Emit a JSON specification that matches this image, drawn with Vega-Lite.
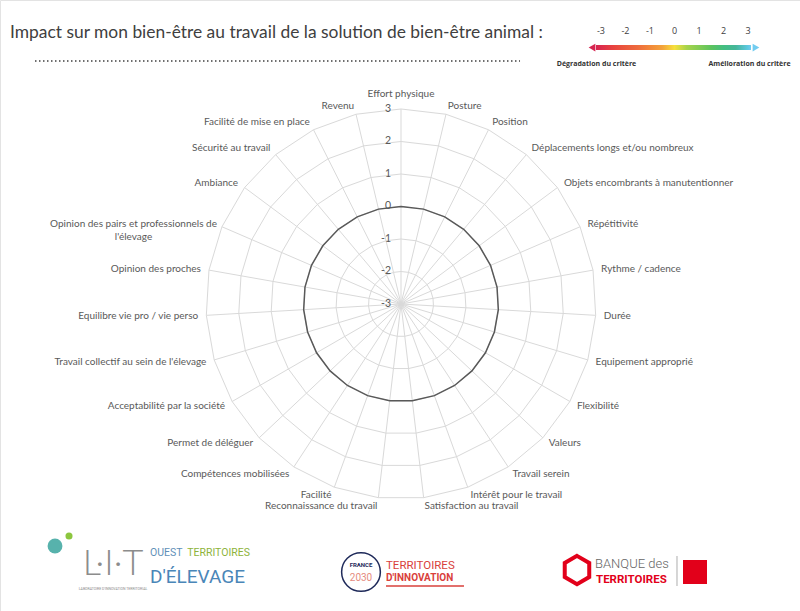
{
  "$schema": "https://vega.github.io/schema/vega-lite/v6.json",
  "width": 800,
  "height": 611,
  "autosize": "none",
  "padding": 0,
  "background": "white",
  "view": {"stroke": "#e3e3e3"},
  "config": {"font": "Lato"},
  "datasets": {
    "criteres": [
      {"i": 0, "critere": "Effort physique", "valeur": 0},
      {"i": 1, "critere": "Posture", "valeur": 0},
      {"i": 2, "critere": "Position", "valeur": 0},
      {"i": 3, "critere": "Déplacements longs et/ou nombreux", "valeur": 0},
      {"i": 4, "critere": "Objets encombrants à manutentionner", "valeur": 0},
      {"i": 5, "critere": "Répétitivité", "valeur": 0},
      {"i": 6, "critere": "Rythme / cadence", "valeur": 0},
      {"i": 7, "critere": "Durée", "valeur": 0},
      {"i": 8, "critere": "Equipement approprié", "valeur": 0},
      {"i": 9, "critere": "Flexibilité", "valeur": 0},
      {"i": 10, "critere": "Valeurs", "valeur": 0},
      {"i": 11, "critere": "Travail serein", "valeur": 0},
      {"i": 12, "critere": "Intérêt pour le travail", "valeur": 0},
      {"i": 13, "critere": "Satisfaction au travail", "valeur": 0},
      {"i": 14, "critere": "Reconnaissance du travail", "valeur": 0},
      {"i": 15, "critere": "Facilité", "valeur": 0},
      {"i": 16, "critere": "Compétences mobilisées", "valeur": 0},
      {"i": 17, "critere": "Permet de déléguer", "valeur": 0},
      {"i": 18, "critere": "Acceptabilité par la société", "valeur": 0},
      {"i": 19, "critere": "Travail collectif au sein de l'élevage", "valeur": 0},
      {"i": 20, "critere": "Equilibre vie pro / vie perso", "valeur": 0},
      {"i": 21, "critere": "Opinion des proches", "valeur": 0},
      {"i": 22, "critere": "Opinion des pairs et professionnels de l'élevage", "valeur": 0},
      {"i": 23, "critere": "Ambiance", "valeur": 0},
      {"i": 24, "critere": "Sécurité au travail", "valeur": 0},
      {"i": 25, "critere": "Facilité de mise en place", "valeur": 0},
      {"i": 26, "critere": "Revenu", "valeur": 0}
    ],
    "graduations": [
      {"niveau": "-3", "n": -3},
      {"niveau": "-2", "n": -2},
      {"niveau": "-1", "n": -1},
      {"niveau": "0", "n": 0},
      {"niveau": "1", "n": 1},
      {"niveau": "2", "n": 2},
      {"niveau": "3", "n": 3}
    ]
  },
  "data": {"name": "criteres"},
  "transform": [
    {"calculate": "datum.i * 2 * PI / 27", "as": "a"},
    {"calculate": "6 * sin(datum.a)", "as": "sx"},
    {"calculate": "6 * cos(datum.a)", "as": "sy"},
    {"calculate": "(datum.valeur + 3) * sin(datum.a)", "as": "vx"},
    {"calculate": "(datum.valeur + 3) * cos(datum.a)", "as": "vy"},
    {"calculate": "6.25 * sin(datum.a)", "as": "lx"},
    {"calculate": "6.25 * cos(datum.a)", "as": "ly"}
  ],
  "layer": [
    {
      "transform": [
        {"calculate": "[-2, -1, 0, 1, 2, 3]", "as": "niv"},
        {"flatten": ["niv"]},
        {"calculate": "(datum.niv + 3) * sin(datum.a)", "as": "rx"},
        {"calculate": "(datum.niv + 3) * cos(datum.a)", "as": "ry"}
      ],
      "mark": {"type": "line", "interpolate": "linear-closed", "color": "#d9d9d9", "strokeWidth": 1},
      "encoding": {
        "x": {"field": "rx", "type": "quantitative", "scale": {"domain": [-12.3385, 12.2769], "nice": false, "zero": false}, "axis": null},
        "y": {"field": "ry", "type": "quantitative", "scale": {"domain": [-9.4462, 9.3538], "nice": false, "zero": false}, "axis": null},
        "detail": {"field": "niv", "type": "nominal"},
        "order": {"field": "i", "type": "quantitative"}
      }
    },
    {
      "mark": {"type": "rule", "color": "#d9d9d9", "strokeWidth": 1},
      "encoding": {
        "x": {"field": "sx", "type": "quantitative", "scale": {"domain": [-12.3385, 12.2769], "nice": false, "zero": false}, "axis": null},
        "y": {"field": "sy", "type": "quantitative", "scale": {"domain": [-9.4462, 9.3538], "nice": false, "zero": false}, "axis": null},
        "x2": {"datum": 0},
        "y2": {"datum": 0}
      }
    },
    {
      "mark": {"type": "line", "interpolate": "linear-closed", "color": "#595959", "strokeWidth": 1.5},
      "encoding": {
        "x": {"field": "vx", "type": "quantitative", "scale": {"domain": [-12.3385, 12.2769], "nice": false, "zero": false}, "axis": null},
        "y": {"field": "vy", "type": "quantitative", "scale": {"domain": [-9.4462, 9.3538], "nice": false, "zero": false}, "axis": null},
        "order": {"field": "i", "type": "quantitative"}
      }
    },
    {
      "mark": {"type": "point", "opacity": 0},
      "encoding": {
        "x": {"field": "vx", "type": "quantitative", "scale": {"domain": [-12.3385, 12.2769], "nice": false, "zero": false}, "axis": null},
        "y": {"field": "vy", "type": "quantitative", "scale": {"domain": [-9.4462, 9.3538], "nice": false, "zero": false}, "axis": null},
        "color": {
          "field": "valeur",
          "type": "quantitative",
          "scale": {
            "domain": [-3.2, -2.5, -1.5, -0.5, 0, 0.5, 1.5, 2.5, 3.12],
            "range": ["#d62450", "#e8423f", "#ee6b3d", "#f3a23b", "#f7e03c", "#a6d34b", "#5cc35e", "#45b69a", "#72ccf0"]
          },
          "legend": {
            "orient": "none",
            "legendX": 596,
            "legendY": 45,
            "direction": "horizontal",
            "gradientLength": 155,
            "gradientThickness": 5,
            "gradientStrokeWidth": 0,
            "values": [-3, -2, -1, 0, 1, 2, 3],
            "labelExpr": "'' + datum.value",
            "labelOffset": -23,
            "labelAlign": "center",
            "labelOverlap": false,
            "labelFontSize": 9,
            "labelFont": "Open Sans",
            "labelColor": "#404040",
            "title": null,
            "padding": 0
          }
        }
      }
    },
    {
      "data": {"name": "graduations"},
      "transform": [{"calculate": "datum.n + 3", "as": "r"}],
      "mark": {"type": "text", "align": "right", "baseline": "middle", "dx": -10, "fontSize": 10.5, "font": "Lato", "color": "#595959"},
      "encoding": {
        "x": {"datum": 0, "type": "quantitative", "scale": {"domain": [-12.3385, 12.2769], "nice": false, "zero": false}, "axis": null},
        "y": {"field": "r", "type": "quantitative", "scale": {"domain": [-9.4462, 9.3538], "nice": false, "zero": false}, "axis": null},
        "text": {"field": "niveau", "type": "nominal"}
      }
    },
    {
      "transform": [{"filter": "datum.i === 0"}],
      "mark": {"type": "text", "align": "center", "baseline": "bottom", "dy": -2, "fontSize": 10, "font": "Lato", "color": "#595959"},
      "encoding": {
        "x": {"field": "lx", "type": "quantitative", "scale": {"domain": [-12.3385, 12.2769], "nice": false, "zero": false}, "axis": null},
        "y": {"field": "ly", "type": "quantitative", "scale": {"domain": [-9.4462, 9.3538], "nice": false, "zero": false}, "axis": null},
        "text": {"field": "critere", "type": "nominal"}
      }
    },
    {
      "transform": [{"filter": "datum.i >= 1 && datum.i <= 13"}],
      "mark": {"type": "text", "align": "left", "baseline": "middle", "fontSize": 10, "font": "Lato", "color": "#595959"},
      "encoding": {
        "x": {"field": "lx", "type": "quantitative", "scale": {"domain": [-12.3385, 12.2769], "nice": false, "zero": false}, "axis": null},
        "y": {"field": "ly", "type": "quantitative", "scale": {"domain": [-9.4462, 9.3538], "nice": false, "zero": false}, "axis": null},
        "text": {"field": "critere", "type": "nominal"}
      }
    },
    {
      "transform": [{"filter": "datum.i >= 14 && datum.i !== 22"}],
      "mark": {"type": "text", "align": "right", "baseline": "middle", "fontSize": 10, "font": "Lato", "color": "#595959"},
      "encoding": {
        "x": {"field": "lx", "type": "quantitative", "scale": {"domain": [-12.3385, 12.2769], "nice": false, "zero": false}, "axis": null},
        "y": {"field": "ly", "type": "quantitative", "scale": {"domain": [-9.4462, 9.3538], "nice": false, "zero": false}, "axis": null},
        "text": {"field": "critere", "type": "nominal"}
      }
    },
    {
      "transform": [
        {"filter": "datum.i === 22"},
        {"calculate": "['Opinion des pairs et professionnels de', 'l\\'élevage']", "as": "lignes"}
      ],
      "mark": {"type": "text", "align": "center", "baseline": "middle", "dx": -81, "lineHeight": 13, "fontSize": 10, "font": "Lato", "color": "#595959"},
      "encoding": {
        "x": {"field": "lx", "type": "quantitative", "scale": {"domain": [-12.3385, 12.2769], "nice": false, "zero": false}, "axis": null},
        "y": {"field": "ly", "type": "quantitative", "scale": {"domain": [-9.4462, 9.3538], "nice": false, "zero": false}, "axis": null},
        "text": {"field": "lignes"}
      }
    },
    {
      "data": {"values": [{}]},
      "mark": {"type": "text", "align": "left", "baseline": "middle", "fontSize": 17.4, "font": "Lato", "color": "#404040"},
      "encoding": {
        "x": {"datum": -12.031, "type": "quantitative", "scale": {"domain": [-12.3385, 12.2769], "nice": false, "zero": false}, "axis": null},
        "y": {"datum": 8.338, "type": "quantitative", "scale": {"domain": [-9.4462, 9.3538], "nice": false, "zero": false}, "axis": null},
        "text": {"value": "Impact sur mon bien-être au travail de la solution de bien-être animal :"}
      }
    },
    {
      "data": {"values": [{}]},
      "mark": {"type": "rule", "color": "#404040", "strokeWidth": 1.5, "strokeDash": [1.5, 2.5]},
      "encoding": {
        "x": {"datum": -11.262, "type": "quantitative", "scale": {"domain": [-12.3385, 12.2769], "nice": false, "zero": false}, "axis": null},
        "x2": {"datum": 3.662},
        "y": {"datum": 7.477, "type": "quantitative", "scale": {"domain": [-9.4462, 9.3538], "nice": false, "zero": false}, "axis": null}
      }
    },
    {
      "data": {"values": [{}]},
      "mark": {"type": "point", "shape": "triangle-left", "filled": true, "size": 60, "color": "#d62450", "opacity": 1},
      "encoding": {
        "x": {"datum": 5.877, "type": "quantitative", "scale": {"domain": [-12.3385, 12.2769], "nice": false, "zero": false}, "axis": null},
        "y": {"datum": 7.892, "type": "quantitative", "scale": {"domain": [-9.4462, 9.3538], "nice": false, "zero": false}, "axis": null}
      }
    },
    {
      "data": {"values": [{}]},
      "mark": {"type": "point", "shape": "triangle-right", "filled": true, "size": 60, "color": "#72ccf0", "opacity": 1},
      "encoding": {
        "x": {"datum": 10.923, "type": "quantitative", "scale": {"domain": [-12.3385, 12.2769], "nice": false, "zero": false}, "axis": null},
        "y": {"datum": 7.892, "type": "quantitative", "scale": {"domain": [-9.4462, 9.3538], "nice": false, "zero": false}, "axis": null}
      }
    },
    {
      "data": {"values": [{}]},
      "mark": {"type": "text", "align": "center", "baseline": "middle", "fontSize": 7, "fontWeight": "bold", "font": "Open Sans", "color": "#333333"},
      "encoding": {
        "x": {"datum": 6.015, "type": "quantitative", "scale": {"domain": [-12.3385, 12.2769], "nice": false, "zero": false}, "axis": null},
        "y": {"datum": 7.385, "type": "quantitative", "scale": {"domain": [-9.4462, 9.3538], "nice": false, "zero": false}, "axis": null},
        "text": {"value": "Dégradation du critère"}
      }
    },
    {
      "data": {"values": [{}]},
      "mark": {"type": "text", "align": "center", "baseline": "middle", "fontSize": 7, "fontWeight": "bold", "font": "Open Sans", "color": "#333333"},
      "encoding": {
        "x": {"datum": 10.723, "type": "quantitative", "scale": {"domain": [-12.3385, 12.2769], "nice": false, "zero": false}, "axis": null},
        "y": {"datum": 7.385, "type": "quantitative", "scale": {"domain": [-9.4462, 9.3538], "nice": false, "zero": false}, "axis": null},
        "text": {"value": "Amélioration du critère"}
      }
    },
    {
      "data": {"values": [{}]},
      "mark": {"type": "point", "shape": "circle", "filled": true, "size": 220, "color": "#3aa59d", "opacity": 0.85},
      "encoding": {
        "x": {"datum": -10.646, "type": "quantitative", "scale": {"domain": [-12.3385, 12.2769], "nice": false, "zero": false}, "axis": null},
        "y": {"datum": -7.446, "type": "quantitative", "scale": {"domain": [-9.4462, 9.3538], "nice": false, "zero": false}, "axis": null}
      }
    },
    {
      "data": {"values": [{}]},
      "mark": {"type": "point", "shape": "circle", "filled": true, "size": 50, "color": "#8cc63f", "opacity": 1},
      "encoding": {
        "x": {"datum": -10.215, "type": "quantitative", "scale": {"domain": [-12.3385, 12.2769], "nice": false, "zero": false}, "axis": null},
        "y": {"datum": -7.138, "type": "quantitative", "scale": {"domain": [-9.4462, 9.3538], "nice": false, "zero": false}, "axis": null}
      }
    },
    {
      "data": {"values": [{}]},
      "mark": {"type": "text", "align": "center", "baseline": "middle", "fontSize": 36, "fontWeight": 300, "font": "Lato", "color": "#8c8c8c"},
      "encoding": {
        "x": {"datum": -8.862, "type": "quantitative", "scale": {"domain": [-12.3385, 12.2769], "nice": false, "zero": false}, "axis": null},
        "y": {"datum": -8.0, "type": "quantitative", "scale": {"domain": [-9.4462, 9.3538], "nice": false, "zero": false}, "axis": null},
        "text": {"value": "L·I·T"}
      }
    },
    {
      "data": {"values": [{}]},
      "mark": {"type": "text", "align": "center", "baseline": "middle", "fontSize": 3.5, "font": "Roboto", "color": "#8c8c8c"},
      "encoding": {
        "x": {"datum": -8.862, "type": "quantitative", "scale": {"domain": [-12.3385, 12.2769], "nice": false, "zero": false}, "axis": null},
        "y": {"datum": -8.769, "type": "quantitative", "scale": {"domain": [-9.4462, 9.3538], "nice": false, "zero": false}, "axis": null},
        "text": {"value": "LABORATOIRE D'INNOVATION TERRITORIAL"}
      }
    },
    {
      "data": {"values": [{}]},
      "mark": {"type": "text", "align": "left", "baseline": "middle", "fontSize": 10.5, "font": "Roboto", "color": "#5f8fb8"},
      "encoding": {
        "x": {"datum": -7.723, "type": "quantitative", "scale": {"domain": [-12.3385, 12.2769], "nice": false, "zero": false}, "axis": null},
        "y": {"datum": -7.662, "type": "quantitative", "scale": {"domain": [-9.4462, 9.3538], "nice": false, "zero": false}, "axis": null},
        "text": {"value": "OUEST"}
      }
    },
    {
      "data": {"values": [{}]},
      "mark": {"type": "text", "align": "right", "baseline": "middle", "fontSize": 10.5, "font": "Roboto", "color": "#8db33a"},
      "encoding": {
        "x": {"datum": -4.646, "type": "quantitative", "scale": {"domain": [-12.3385, 12.2769], "nice": false, "zero": false}, "axis": null},
        "y": {"datum": -7.662, "type": "quantitative", "scale": {"domain": [-9.4462, 9.3538], "nice": false, "zero": false}, "axis": null},
        "text": {"value": "TERRITOIRES"}
      }
    },
    {
      "data": {"values": [{}]},
      "mark": {"type": "text", "align": "left", "baseline": "middle", "fontSize": 19, "font": "Roboto", "color": "#4a86b8"},
      "encoding": {
        "x": {"datum": -7.723, "type": "quantitative", "scale": {"domain": [-12.3385, 12.2769], "nice": false, "zero": false}, "axis": null},
        "y": {"datum": -8.4, "type": "quantitative", "scale": {"domain": [-9.4462, 9.3538], "nice": false, "zero": false}, "axis": null},
        "text": {"value": "D'ÉLEVAGE"}
      }
    },
    {
      "data": {"values": [{}]},
      "mark": {"type": "point", "shape": "circle", "filled": false, "size": 1500, "color": "#1f2a5a", "strokeWidth": 1.5, "opacity": 1},
      "encoding": {
        "x": {"datum": -1.231, "type": "quantitative", "scale": {"domain": [-12.3385, 12.2769], "nice": false, "zero": false}, "axis": null},
        "y": {"datum": -8.246, "type": "quantitative", "scale": {"domain": [-9.4462, 9.3538], "nice": false, "zero": false}, "axis": null}
      }
    },
    {
      "data": {"values": [{}]},
      "mark": {"type": "text", "align": "center", "baseline": "middle", "fontSize": 6, "fontWeight": "bold", "font": "Roboto", "color": "#1f2a5a"},
      "encoding": {
        "x": {"datum": -1.231, "type": "quantitative", "scale": {"domain": [-12.3385, 12.2769], "nice": false, "zero": false}, "axis": null},
        "y": {"datum": -8.03, "type": "quantitative", "scale": {"domain": [-9.4462, 9.3538], "nice": false, "zero": false}, "axis": null},
        "text": {"value": "FRANCE"}
      }
    },
    {
      "data": {"values": [{}]},
      "mark": {"type": "text", "align": "center", "baseline": "middle", "fontSize": 10, "font": "Roboto", "color": "#e58b7e"},
      "encoding": {
        "x": {"datum": -1.231, "type": "quantitative", "scale": {"domain": [-12.3385, 12.2769], "nice": false, "zero": false}, "axis": null},
        "y": {"datum": -8.431, "type": "quantitative", "scale": {"domain": [-9.4462, 9.3538], "nice": false, "zero": false}, "axis": null},
        "text": {"value": "2030"}
      }
    },
    {
      "data": {"values": [{}]},
      "mark": {"type": "text", "align": "left", "baseline": "middle", "fontSize": 11.5, "font": "Roboto", "color": "#d9413b"},
      "encoding": {
        "x": {"datum": -0.4615, "type": "quantitative", "scale": {"domain": [-12.3385, 12.2769], "nice": false, "zero": false}, "axis": null},
        "y": {"datum": -8.062, "type": "quantitative", "scale": {"domain": [-9.4462, 9.3538], "nice": false, "zero": false}, "axis": null},
        "text": {"value": "TERRITOIRES"}
      }
    },
    {
      "data": {"values": [{}]},
      "mark": {"type": "text", "align": "left", "baseline": "middle", "fontSize": 10, "fontWeight": "bold", "font": "Roboto", "color": "#d9413b"},
      "encoding": {
        "x": {"datum": -0.4615, "type": "quantitative", "scale": {"domain": [-12.3385, 12.2769], "nice": false, "zero": false}, "axis": null},
        "y": {"datum": -8.431, "type": "quantitative", "scale": {"domain": [-9.4462, 9.3538], "nice": false, "zero": false}, "axis": null},
        "text": {"value": "D'INNOVATION"}
      }
    },
    {
      "data": {"values": [{}]},
      "mark": {"type": "rule", "color": "#d9413b", "strokeWidth": 1.5},
      "encoding": {
        "x": {"datum": -0.4615, "type": "quantitative", "scale": {"domain": [-12.3385, 12.2769], "nice": false, "zero": false}, "axis": null},
        "x2": {"datum": 1.938},
        "y": {"datum": -8.677, "type": "quantitative", "scale": {"domain": [-9.4462, 9.3538], "nice": false, "zero": false}, "axis": null}
      }
    },
    {
      "data": {"values": [{}]},
      "mark": {"type": "point", "shape": "M0,-1L0.866,-0.5L0.866,0.5L0,1L-0.866,0.5L-0.866,-0.5Z", "filled": false, "size": 800, "color": "#e2001a", "strokeWidth": 4, "opacity": 1},
      "encoding": {
        "x": {"datum": 5.415, "type": "quantitative", "scale": {"domain": [-12.3385, 12.2769], "nice": false, "zero": false}, "axis": null},
        "y": {"datum": -8.185, "type": "quantitative", "scale": {"domain": [-9.4462, 9.3538], "nice": false, "zero": false}, "axis": null}
      }
    },
    {
      "data": {"values": [{}]},
      "mark": {"type": "text", "align": "left", "baseline": "middle", "fontSize": 13, "fontWeight": 300, "font": "Roboto", "color": "#666666"},
      "encoding": {
        "x": {"datum": 5.969, "type": "quantitative", "scale": {"domain": [-12.3385, 12.2769], "nice": false, "zero": false}, "axis": null},
        "y": {"datum": -8.0, "type": "quantitative", "scale": {"domain": [-9.4462, 9.3538], "nice": false, "zero": false}, "axis": null},
        "text": {"value": "BANQUE des"}
      }
    },
    {
      "data": {"values": [{}]},
      "mark": {"type": "text", "align": "left", "baseline": "middle", "fontSize": 11.5, "fontWeight": "bold", "font": "Roboto", "color": "#e2001a"},
      "encoding": {
        "x": {"datum": 6.0, "type": "quantitative", "scale": {"domain": [-12.3385, 12.2769], "nice": false, "zero": false}, "axis": null},
        "y": {"datum": -8.492, "type": "quantitative", "scale": {"domain": [-9.4462, 9.3538], "nice": false, "zero": false}, "axis": null},
        "text": {"value": "TERRITOIRES"}
      }
    },
    {
      "data": {"values": [{}]},
      "mark": {"type": "rule", "color": "#999999", "strokeWidth": 0.8},
      "encoding": {
        "x": {"datum": 8.492, "type": "quantitative", "scale": {"domain": [-12.3385, 12.2769], "nice": false, "zero": false}, "axis": null},
        "y": {"datum": -7.754, "type": "quantitative", "scale": {"domain": [-9.4462, 9.3538], "nice": false, "zero": false}, "axis": null},
        "y2": {"datum": -8.677}
      }
    },
    {
      "data": {"values": [{}]},
      "mark": {"type": "point", "shape": "square", "filled": true, "size": 576, "color": "#e2001a", "opacity": 1},
      "encoding": {
        "x": {"datum": 9.046, "type": "quantitative", "scale": {"domain": [-12.3385, 12.2769], "nice": false, "zero": false}, "axis": null},
        "y": {"datum": -8.246, "type": "quantitative", "scale": {"domain": [-9.4462, 9.3538], "nice": false, "zero": false}, "axis": null}
      }
    }
  ]
}
